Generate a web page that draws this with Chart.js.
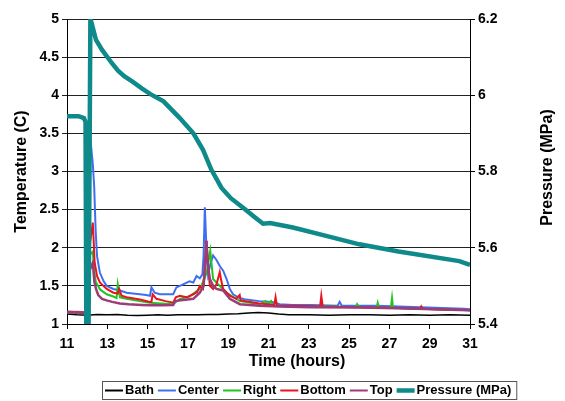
<!DOCTYPE html>
<html><head><meta charset="utf-8">
<script src="https://cdn.jsdelivr.net/npm/chart.js@4.4.1/dist/chart.umd.min.js"></script>
<style>html,body{margin:0;padding:0;background:#fff;overflow:hidden}</style>
</head><body>
<canvas id="c" width="565" height="401"></canvas>
<script>
// ---- data (hours, value) ----
const timeTicks = [11,13,15,17,19,21,23,25,27,29,31];
const tempTicks = [1,1.5,2,2.5,3,3.5,4,4.5,5];
const pressTicks = [5.4,5.6,5.8,6.0,6.2];
const seriesNames = ['Bath','Center','Right','Bottom','Top','Pressure (MPa)'];

const bath = [[11,1.13],[11.5,1.12],[12,1.115],[12.5,1.125],[13,1.12],[13.5,1.125],[14,1.115],[14.5,1.11],[15,1.115],[15.5,1.12],[16,1.115],[16.5,1.12],[17,1.12],[17.5,1.12],[18,1.125],[18.5,1.125],[19,1.13],[19.5,1.135],[20,1.145],[20.5,1.15],[21,1.145],[21.5,1.13],[22,1.12],[23,1.12],[24,1.115],[25,1.12],[26,1.12],[27,1.115],[28,1.12],[29,1.115],[30,1.12],[31,1.115]];

const center = [[11,1.15],[11.57,1.16],[11.9,1.15],[12.01,1.6],[12.17,3.4],[12.28,3.1],[12.35,2.8],[12.42,2.24],[12.49,1.89],[12.63,1.675],[12.82,1.56],[12.97,1.5],[13.3,1.46],[13.63,1.44],[13.96,1.41],[14.27,1.4],[14.62,1.39],[14.92,1.38],[15.12,1.37],[15.19,1.48],[15.35,1.41],[15.61,1.39],[15.89,1.39],[16.27,1.39],[16.43,1.48],[16.76,1.52],[17.08,1.56],[17.27,1.545],[17.43,1.63],[17.59,1.6],[17.72,1.65],[17.78,1.9],[17.84,2.53],[17.92,2.0],[18.0,1.65],[18.11,1.78],[18.25,1.9],[18.42,1.84],[18.58,1.76],[18.75,1.7],[18.92,1.59],[19.08,1.46],[19.24,1.39],[19.57,1.34],[19.89,1.32],[20.54,1.3],[21.19,1.29],[21.55,1.26],[22.21,1.25],[23.13,1.25],[24.43,1.24],[24.53,1.29],[24.64,1.24],[25.51,1.24],[26.37,1.24],[27.45,1.23],[28.53,1.22],[29.61,1.21],[30.69,1.2],[31,1.195]];

const right = [[11,1.15],[11.9,1.14],[12.11,1.9],[12.28,1.95],[12.35,1.7],[12.43,1.55],[12.65,1.45],[12.97,1.39],[13.3,1.36],[13.46,1.34],[13.52,1.52],[13.63,1.35],[13.95,1.33],[14.6,1.3],[15.12,1.28],[15.68,1.27],[16.27,1.26],[16.6,1.33],[17.08,1.36],[17.59,1.46],[17.84,1.6],[17.95,1.7],[18.11,1.96],[18.25,1.59],[18.58,1.5],[18.92,1.41],[19.58,1.3],[20.56,1.26],[20.86,1.3],[20.97,1.25],[21.13,1.3],[21.24,1.24],[22.05,1.23],[23.13,1.23],[24.21,1.23],[25.34,1.22],[25.4,1.26],[25.51,1.22],[26.37,1.22],[26.42,1.28],[26.48,1.22],[27.07,1.21],[27.13,1.34],[27.18,1.21],[28.53,1.2],[29.61,1.19],[30.69,1.185],[31,1.18]];

const bottom = [[11,1.15],[11.57,1.15],[11.9,1.14],[12.11,2.0],[12.28,2.33],[12.32,2.11],[12.37,1.81],[12.49,1.63],[12.63,1.545],[12.97,1.46],[13.3,1.41],[13.52,1.4],[13.59,1.46],[13.71,1.37],[13.96,1.35],[14.62,1.32],[15.12,1.29],[15.19,1.29],[15.25,1.39],[15.44,1.33],[15.89,1.3],[16.27,1.28],[16.4,1.35],[16.6,1.37],[16.93,1.35],[17.27,1.39],[17.46,1.42],[17.59,1.5],[17.75,1.46],[17.86,1.8],[17.92,2.09],[18.0,1.76],[18.09,1.5],[18.25,1.46],[18.42,1.52],[18.58,1.68],[18.67,1.55],[18.75,1.46],[19.08,1.37],[19.4,1.33],[19.57,1.38],[19.62,1.31],[20.56,1.27],[21.29,1.25],[21.35,1.35],[21.42,1.24],[22.21,1.24],[23.56,1.23],[23.62,1.37],[23.69,1.23],[25.29,1.22],[26.37,1.215],[27.45,1.21],[28.53,1.2],[28.58,1.23],[28.64,1.2],[29.61,1.19],[30.69,1.185],[31,1.18]];

const top_ = [[11,1.16],[11.9,1.15],[12.11,1.7],[12.28,1.8],[12.36,1.55],[12.44,1.46],[12.55,1.38],[12.74,1.33],[12.97,1.31],[13.24,1.29],[13.63,1.27],[14.06,1.26],[14.71,1.25],[15.12,1.245],[15.68,1.245],[16.27,1.25],[16.35,1.3],[16.65,1.31],[17.27,1.33],[17.59,1.41],[17.78,1.5],[17.92,2.09],[18.0,1.75],[18.09,1.59],[18.25,1.5],[18.42,1.46],[18.75,1.44],[19.08,1.33],[19.58,1.26],[20.56,1.24],[21.51,1.23],[23.13,1.22],[25.51,1.215],[27.45,1.205],[29.61,1.19],[31,1.18]];

const pressure = [[11,5.945],[11.57,5.945],[11.84,5.94],[11.92,5.93],[11.96,5.38],[12.07,5.38],[12.16,6.2],[12.22,6.19],[12.31,6.171],[12.44,6.145],[12.74,6.119],[13.23,6.084],[13.52,6.065],[13.84,6.05],[14.27,6.035],[14.71,6.018],[15.14,6.003],[15.79,5.984],[16.6,5.94],[17.27,5.9],[17.75,5.857],[18.16,5.805],[18.67,5.757],[19.13,5.73],[19.74,5.705],[20.32,5.68],[20.73,5.663],[21.08,5.665],[22.21,5.653],[23.86,5.631],[25.51,5.609],[27.45,5.59],[30.47,5.565],[31,5.555]];

const colors = ['#000000','#3f6ff0','#22c422','#e8141e','#9c3c78','#0e8a8a'];
const widths = [1.5,2,2,2,2.5,4.5];

const FONT = '"Liberation Sans", Arial, sans-serif';
const pts = a => a.map(p => ({x:p[0], y:p[1]}));
const fmt = v => String(Number(Number(v).toFixed(2)));

const allSeries = [bath, center, right, bottom, top_, pressure];
const datasets = allSeries.map((s,i) => ({
  label: seriesNames[i],
  data: pts(s),
  borderColor: colors[i],
  backgroundColor: colors[i],
  borderWidth: widths[i],
  pointRadius: 0,
  tension: 0,
  yAxisID: i === 5 ? 'y2' : 'y',
  order: 6 - i
}));

const overlay = {
  id: 'overlay',
  afterDraw(chart) {
    const ctx = chart.ctx, ca = chart.chartArea;
    ctx.save();
    ctx.fillStyle = '#000';
    ctx.font = 'bold 16px ' + FONT;
    ctx.textAlign = 'center';
    ctx.textBaseline = 'middle';
    ctx.fillText('Time (hours)', 297, 362);
    ctx.translate(548, (ca.top + ca.bottom) / 2 - 4);
    ctx.rotate(-Math.PI / 2);
    ctx.fillText('Pressure (MPa)', 0, 0);
    ctx.restore();

    // legend
    ctx.save();
    ctx.font = 'bold 13px ' + FONT;
    ctx.textBaseline = 'middle';
    ctx.textAlign = 'left';
    const boxL = 102, boxT = 381, boxB = 399, cy = 390.5;
    let x = boxL + 3;
    chart.data.datasets.forEach((d) => {
      ctx.strokeStyle = d.borderColor;
      ctx.lineWidth = d.borderWidth > 3 ? 4.5 : 2;
      ctx.beginPath(); ctx.moveTo(x, cy); ctx.lineTo(x + 18, cy); ctx.stroke();
      x += 20;
      ctx.fillStyle = '#000';
      ctx.fillText(d.label, x, cy);
      x += ctx.measureText(d.label).width + 4;
    });
    ctx.strokeStyle = '#555';
    ctx.lineWidth = 1;
    ctx.strokeRect(boxL + 0.5, boxT + 0.5, x + 1 - boxL, boxB - boxT);
    ctx.restore();
  }
};

new Chart(document.getElementById('c'), {
  type: 'line',
  data: { datasets },
  options: {
    responsive: false,
    animation: false,
    devicePixelRatio: 1,
    layout: { padding: { top: 19, left: 0, right: 0, bottom: 27 } },
    plugins: { legend: { display: false }, tooltip: { enabled: false } },
    scales: {
      x: {
        type: 'linear', min: 11, max: 31,
        afterBuildTicks: s => { s.ticks = timeTicks.map(v => ({value: v})); },
        afterFit: s => { s.height = 50; },
        ticks: { color: '#000', font: { family: FONT, size: 14, weight: 'bold' }, padding: 7, maxRotation: 0, autoSkip: false, callback: v => fmt(v) },
        grid: { drawOnChartArea: false, drawTicks: true, tickLength: 5, color: '#000' },
        border: { color: '#000', width: 1 },
        title: { display: false }
      },
      y: {
        position: 'left', min: 1, max: 5,
        afterBuildTicks: s => { s.ticks = tempTicks.map(v => ({value: v})); },
        afterFit: s => { s.width = 67; },
        ticks: { color: '#000', font: { family: FONT, size: 14, weight: 'bold' }, padding: 3, callback: v => fmt(v) },
        grid: { color: '#222', lineWidth: 1, tickLength: 5, drawTicks: true },
        border: { color: '#000', width: 1 },
        title: { display: true, text: 'Temperature (C)', color: '#000', font: { family: FONT, size: 16, weight: 'bold' }, padding: { top: 12, bottom: 0 } }
      },
      y2: {
        position: 'right', min: 5.4, max: 6.2,
        afterBuildTicks: s => { s.ticks = pressTicks.map(v => ({value: v})); },
        afterFit: s => { s.width = 95; },
        ticks: { color: '#000', font: { family: FONT, size: 14, weight: 'bold' }, padding: 3, callback: v => fmt(v) },
        grid: { drawOnChartArea: false, drawTicks: true, tickLength: 5, color: '#000' },
        border: { color: '#000', width: 1 }
      }
    }
  },
  plugins: [overlay]
});
</script>
</body></html>
